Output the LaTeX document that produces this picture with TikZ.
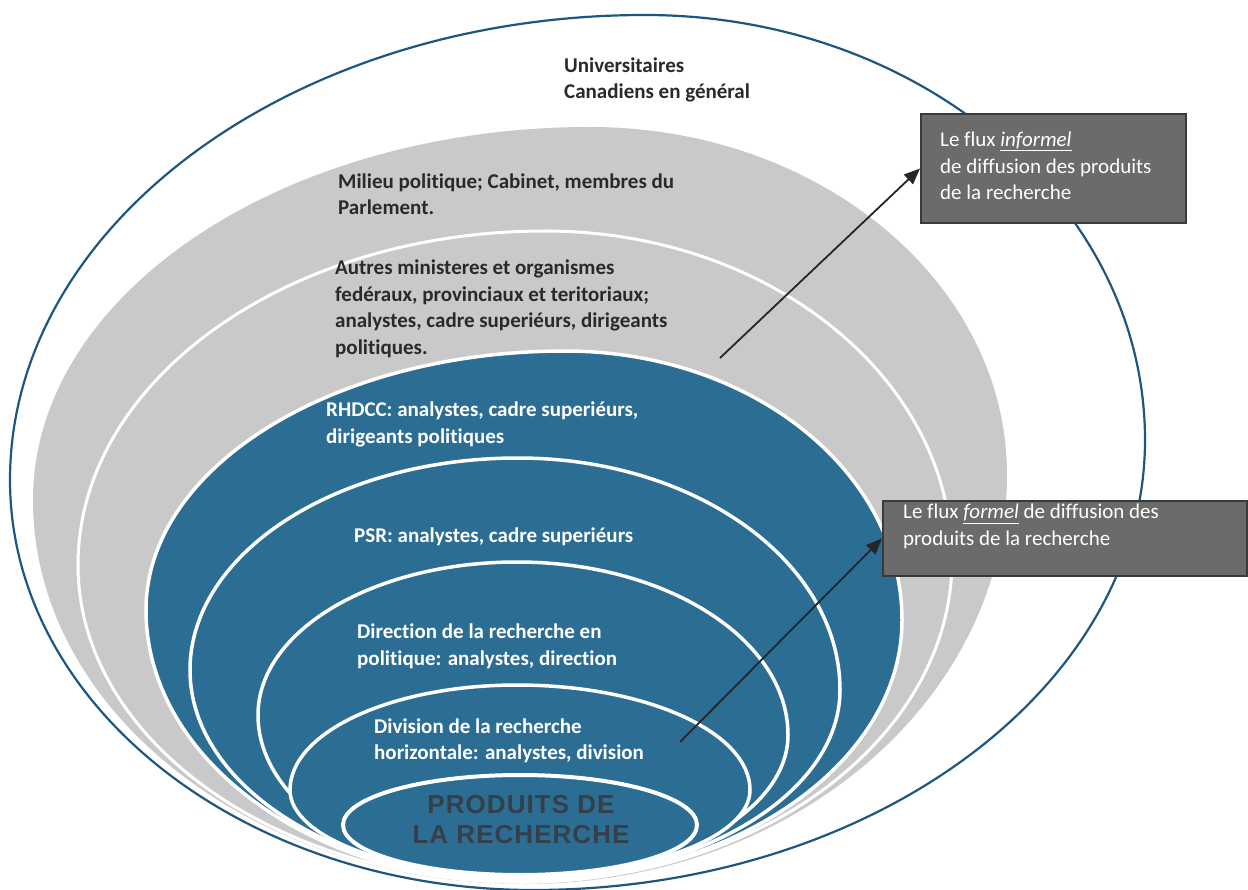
\documentclass[tikz,border=0pt]{standalone}
\usepackage{fontspec}
\setmainfont{Carlito}[Ligatures=CommonOff]
\newfontfamily\prodfont[LetterSpace=4]{Liberation Sans}
\usetikzlibrary{arrows.meta}
\definecolor{outerblue}{HTML}{1D5780}
\definecolor{layerblue}{HTML}{2C6D93}
\definecolor{layergray}{HTML}{C9C9C9}
\definecolor{boxgray}{HTML}{6B6B6B}
\definecolor{boxedge}{HTML}{3A3A3A}
\definecolor{darktext}{HTML}{2A2A2A}
\definecolor{prodtext}{HTML}{363F48}
\def\ka{0.552}
\def\kb{0.552}
% egg: top (x,y), right (x,y), bottom (x,y), left (x,y)
\newcommand\mkegg[8]{(#1,#2) .. controls ({#1+\ka*(#3-#1)},#2) and (#3,{#4-\ka*(#4-#2)}) .. (#3,#4) .. controls (#3,{#4+\kb*(#6-#4)}) and ({#5+\kb*(#3-#5)},#6) .. (#5,#6) .. controls ({#5-\kb*(#5-#7)},#6) and (#7,{#8+\kb*(#6-#8)}) .. (#7,#8) .. controls (#7,{#8-\ka*(#8-#2)}) and ({#1-\ka*(#1-#7)},#2) .. (#1,#2) -- cycle}
\tikzset{
  outerring/.style={fill=white, draw=outerblue, line width=2.2pt},
  grayzone/.style={fill=layergray},
  grayring/.style={fill=layergray, draw=white, line width=3pt},
  bluering/.style={fill=layerblue, draw=white, line width=3.5pt},
  lbl/.style={anchor=west, align=left, inner sep=0pt, font=\bfseries\fontsize{21}{26.5}\selectfont},
  flowbox/.style={draw=boxedge, line width=2pt, fill=boxgray, inner sep=0pt},
  boxtext/.style={anchor=west, align=left, inner sep=0pt, text=white, font=\fontsize{21}{26.5}\selectfont},
  flowarrow/.style={-{Triangle[length=16pt,width=13pt]}, line width=1.8pt, draw=black!85, fill=black!85},
}
\begin{document}
\begin{tikzpicture}[x=1pt,y=-1pt]
\useasboundingbox (0,0) rectangle (1248,890);
% layers
\draw[outerring] \mkegg{645}{15}{1145}{440}{533}{890}{10}{480};
\fill[grayzone] \mkegg{590}{127}{1007}{475}{525}{884}{33}{500};
\draw[grayring] \mkegg{545}{231}{952}{560}{522}{882}{78}{565};
\draw[bluering] \mkegg{565}{351}{902}{620}{520}{882}{146}{610};
\draw[bluering] \mkegg{518}{458}{840}{690}{520}{880}{190}{670};
\draw[bluering] \mkegg{517}{562}{788}{735}{520}{878}{258}{715};
\draw[bluering] \mkegg{517}{685}{750}{790}{520}{876}{290}{790};
\draw[fill=layerblue, draw=white, line width=4pt] (520,825) ellipse [x radius=177, y radius=50];
% labels
\node[lbl, text=darktext] (univ) at (564,80) {Universitaires\\Canadiens en général};
\node[lbl, text=darktext] (milieu) at (338,194) {Milieu politique; Cabinet, membres du\\Parlement.};
\node[lbl, text=darktext] (autres) at (335,309) {Autres ministeres et organismes\\fedéraux, provinciaux et teritoriaux;\\analystes, cadre superiéurs, dirigeants\\politiques.};
\node[lbl, text=white] (rhdcc) at (326,424.5) {RHDCC: analystes, cadre superiéurs,\\dirigeants politiques};
\node[lbl, text=white] (psr) at (354,537) {PSR: analystes, cadre superiéurs};
\node[lbl, text=white] (direction) at (357,646.5) {Direction de la recherche en\\politique: analystes, direction};
\node[lbl, text=white] (division) at (374,741) {Division de la recherche\\horizontale: analystes, division};
\node[align=center, inner sep=0pt, text=prodtext, font=\prodfont\bfseries\fontsize{26}{30}\selectfont] (produits) at (521,820) {PRODUITS DE\\LA RECHERCHE};
% boxes
\node[flowbox, anchor=north west, minimum width=265pt, minimum height=109pt] (box1) at (920,113) {};
\node[boxtext] (box1text) at (940,166) {Le flux \underline{\textit{informel}}\\de diffusion des produits\\de la recherche};
\node[flowbox, anchor=north west, minimum width=364pt, minimum height=75pt] (box2) at (882,500) {};
\node[boxtext] (box2text) at (903,526.5) {Le flux \underline{\textit{formel}} de diffusion des\\produits de la recherche};
% arrows
\coordinate (tail1) at (720,358);
\coordinate (tail2) at (680,742);
\draw[flowarrow] (tail1) -- (box1.west);
\draw[flowarrow] (tail2) -- (box2.west);
\end{tikzpicture}
\end{document}
